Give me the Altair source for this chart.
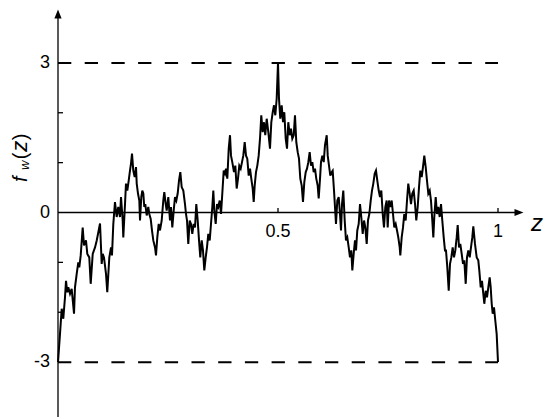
import altair as alt
import pandas as pd

# Curve f_w(z)
z_vals = [0.0000, 0.0045, 0.0084, 0.0120, 0.0159, 0.0182, 0.0211, 0.0234, 0.0273, 0.0311,
          0.0364, 0.0386, 0.0425, 0.0461, 0.0484, 0.0516, 0.0561, 0.0591, 0.0636, 0.0666,
          0.0711, 0.0743, 0.0789, 0.0841, 0.0880, 0.0955, 0.0993, 0.1016, 0.1045, 0.1091,
          0.1120, 0.1166, 0.1205, 0.1227, 0.1257, 0.1295, 0.1334, 0.1370, 0.1409, 0.1432,
          0.1470, 0.1484, 0.1523, 0.1545, 0.1575, 0.1607, 0.1636, 0.1659, 0.1682, 0.1711,
          0.1743, 0.1773, 0.1789, 0.1818, 0.1848, 0.1864, 0.1893, 0.1916, 0.1939, 0.1961,
          0.1984, 0.2016, 0.2052, 0.2075, 0.2107, 0.2136, 0.2166, 0.2205, 0.2227, 0.2257,
          0.2289, 0.2318, 0.2357, 0.2393, 0.2416, 0.2448, 0.2470, 0.2507, 0.2545, 0.2568,
          0.2598, 0.2630, 0.2659, 0.2689, 0.2720, 0.2750, 0.2780, 0.2811, 0.2848, 0.2886,
          0.2909, 0.2932, 0.2961, 0.2993, 0.3023, 0.3052, 0.3084, 0.3114, 0.3143, 0.3175,
          0.3205, 0.3234, 0.3266, 0.3295, 0.3325, 0.3357, 0.3386, 0.3416, 0.3448, 0.3477,
          0.3507, 0.3530, 0.3552, 0.3584, 0.3614, 0.3643, 0.3675, 0.3705, 0.3734, 0.3766,
          0.3795, 0.3818, 0.3848, 0.3880, 0.3909, 0.3932, 0.3961, 0.4000, 0.4030, 0.4061,
          0.4091, 0.4120, 0.4152, 0.4182, 0.4211, 0.4243, 0.4273, 0.4302, 0.4334, 0.4364,
          0.4393, 0.4425, 0.4448, 0.4470, 0.4500, 0.4530, 0.4561, 0.4591, 0.4620, 0.4652,
          0.4682, 0.4711, 0.4743, 0.4780, 0.4818, 0.4848, 0.4880, 0.4909, 0.4939, 0.4970,
          0.5000, 0.5023, 0.5052, 0.5084, 0.5114, 0.5143, 0.5175, 0.5205, 0.5234, 0.5266,
          0.5295, 0.5325, 0.5357, 0.5386, 0.5416, 0.5448, 0.5477, 0.5507, 0.5539, 0.5568,
          0.5598, 0.5630, 0.5659, 0.5689, 0.5720, 0.5750, 0.5780, 0.5811, 0.5841, 0.5870,
          0.5902, 0.5925, 0.5955, 0.5977, 0.6007, 0.6039, 0.6068, 0.6107, 0.6130, 0.6159,
          0.6189, 0.6220, 0.6243, 0.6273, 0.6295, 0.6318, 0.6348, 0.6380, 0.6409, 0.6432,
          0.6455, 0.6484, 0.6516, 0.6545, 0.6575, 0.6607, 0.6636, 0.6666, 0.6689, 0.6720,
          0.6750, 0.6773, 0.6802, 0.6834, 0.6864, 0.6893, 0.6925, 0.6955, 0.6984, 0.7016,
          0.7045, 0.7075, 0.7107, 0.7136, 0.7166, 0.7198, 0.7227, 0.7257, 0.7289, 0.7318,
          0.7348, 0.7380, 0.7409, 0.7439, 0.7470, 0.7493, 0.7523, 0.7552, 0.7584, 0.7614,
          0.7643, 0.7675, 0.7705, 0.7734, 0.7766, 0.7780, 0.7811, 0.7841, 0.7870, 0.7902,
          0.7932, 0.7961, 0.7993, 0.8023, 0.8052, 0.8084, 0.8114, 0.8143, 0.8175, 0.8205,
          0.8234, 0.8266, 0.8295, 0.8325, 0.8357, 0.8386, 0.8416, 0.8448, 0.8477, 0.8507,
          0.8530, 0.8552, 0.8584, 0.8614, 0.8643, 0.8675, 0.8705, 0.8734, 0.8766, 0.8795,
          0.8818, 0.8848, 0.8880, 0.8909, 0.8939, 0.8970, 0.9000, 0.9030, 0.9061, 0.9084,
          0.9114, 0.9143, 0.9175, 0.9205, 0.9234, 0.9266, 0.9295, 0.9325, 0.9357, 0.9386,
          0.9416, 0.9439, 0.9477, 0.9516, 0.9552, 0.9575, 0.9607, 0.9636, 0.9666, 0.9689,
          0.9720, 0.9750, 0.9780, 0.9811, 0.9834, 0.9857, 0.9880, 0.9909, 0.9939, 0.9970,
          1.0000]
f_vals = [-3.00, -2.44, -1.93, -2.13, -1.70, -1.37, -1.60, -1.50, -1.63, -1.53,
          -2.03, -1.50, -1.23, -1.00, -1.10, -0.86, -0.30, -0.66, -0.56, -0.83,
          -0.90, -1.43, -0.83, -0.70, -0.56, -0.22, -1.03, -0.83, -0.90, -1.23,
          -1.60, -0.90, -0.70, -0.86, -0.23, 0.21, -0.09, 0.11, -0.09, 0.31,
          -0.16, -0.50, 0.17, 0.58, 0.44, 0.64, 0.84, 0.98, 1.18, 0.84,
          0.71, 0.91, 0.58, 0.38, 0.24, -0.16, 0.31, 0.44, 0.38, 0.11,
          0.17, -0.06, 0.11, -0.03, -0.13, -0.36, -0.56, -0.70, -0.86, -0.50,
          -0.23, -0.36, -0.16, 0.24, 0.41, 0.17, 0.04, 0.31, -0.16, 0.11,
          -0.30, 0.04, 0.31, 0.24, 0.38, 0.64, 0.81, 0.51, 0.44, 0.17,
          -0.03, -0.16, -0.63, -0.16, -0.23, -0.43, -0.23, -0.30, 0.17, -0.16,
          -0.56, -0.90, -0.56, -0.76, -1.16, -0.90, -0.70, -0.43, -0.56, -0.23,
          0.11, 0.44, 0.04, -0.23, 0.17, 0.11, 0.24, -0.03, 0.38, 0.84,
          0.78, 0.88, 0.68, 1.28, 1.55, 1.14, 1.01, 0.81, 0.94, 0.48,
          0.68, 0.94, 0.88, 1.01, 1.14, 1.41, 1.14, 1.08, 0.74, 0.88,
          0.68, 0.48, 0.21, 0.54, 0.81, 0.94, 1.14, 1.48, 1.95, 1.61,
          1.81, 1.55, 1.88, 1.61, 1.28, 1.81, 2.01, 2.15, 1.95, 2.28,
          3.00, 2.28, 1.88, 2.15, 1.81, 2.01, 1.48, 1.28, 1.81, 1.55,
          1.68, 1.48, 1.55, 1.95, 1.41, 1.21, 1.08, 0.68, 0.54, 0.21,
          0.61, 0.81, 0.88, 1.01, 1.21, 0.94, 1.01, 0.81, 0.88, 0.68,
          0.54, 0.28, 0.68, 1.01, 1.14, 1.01, 1.35, 1.55, 1.14, 0.94,
          0.74, 0.81, 0.84, 0.44, 0.11, -0.23, 0.24, 0.31, -0.03, -0.36,
          0.17, 0.44, -0.16, -0.56, -0.50, -0.70, -0.90, -0.76, -1.16, -0.83,
          -0.56, -0.76, -0.36, -0.23, 0.17, -0.09, -0.43, -0.16, -0.30, -0.63,
          -0.16, -0.03, 0.24, 0.44, 0.58, 0.78, 0.84, 0.64, 0.44, 0.31,
          0.44, -0.03, -0.30, 0.11, 0.24, -0.30, 0.24, 0.11, 0.24, -0.03,
          -0.30, -0.23, -0.36, -0.50, -0.70, -0.86, -0.50, -0.30, -0.03, -0.16,
          0.24, 0.58, 0.38, 0.17, 0.38, 0.44, 0.17, -0.16, 0.11, 0.51,
          0.84, 0.71, 0.91, 1.14, 0.91, 0.64, 0.38, 0.44, 0.24, -0.16,
          -0.50, -0.09, 0.31, -0.03, 0.11, -0.09, 0.17, -0.16, -0.50, -0.76,
          -0.76, -1.10, -1.57, -1.03, -0.90, -0.70, -0.90, -0.76, -0.50, -0.25,
          -0.70, -0.63, -0.83, -1.03, -0.96, -1.43, -0.90, -0.76, -0.90, -0.70,
          -0.50, -0.28, -0.63, -0.90, -0.96, -1.16, -1.50, -1.37, -1.63, -1.83,
          -1.57, -1.70, -1.50, -1.30, -1.50, -1.83, -2.03, -1.90, -2.17, -2.44,
          -3.00]

bound_levels = [3, -3]
y_tick_labels = ["3", "0", "-3"]
y_tick_label_vals = [3, 0, -3]
y_minor_ticks = [2, 1, -1, -2]
x_tick_labels = ["0.5", "1"]
x_tick_vals = [0.5, 1.0]

FONT = "Liberation Sans"
XS = alt.Scale(domain=[0, 1], nice=False, zero=False)
YS = alt.Scale(domain=[-4, 4], nice=False, zero=False)


def X(f):
    return alt.X(f, type="quantitative", scale=XS, axis=None)


def Y(f):
    return alt.Y(f, type="quantitative", scale=YS, axis=None)


curve_df = pd.DataFrame({"z": z_vals, "f": f_vals})
curve = alt.Chart(curve_df).mark_line(color="black", strokeWidth=2).encode(
    x=X("z"), y=Y("f"), order="z:Q")

bounds = alt.Chart(pd.DataFrame({"y": bound_levels, "x0": [0, 0], "x1": [1, 1]})).mark_rule(
    color="black", strokeWidth=2, strokeDash=[13.3, 13.4]).encode(
    x=X("x0"), x2="x1", y=Y("y"))

xaxis = alt.Chart(pd.DataFrame({"y": [0], "x0": [0], "x1": [1.045]})).mark_rule(
    color="black", strokeWidth=1.3).encode(x=X("x0"), x2="x1", y=Y("y"))
yaxis = alt.Chart(pd.DataFrame({"x": [0], "y0": [-4.1], "y1": [3.9]})).mark_rule(
    color="black", strokeWidth=1.3).encode(x=X("x"), y=Y("y0"), y2="y1")

arrow_r = alt.Chart(pd.DataFrame({"x": [1.0477], "y": [0]})).mark_point(
    shape="M1,0L-1,0.8L-1,-0.8Z", filled=True, color="black", opacity=1, size=81,
    strokeWidth=0).encode(x=X("x"), y=Y("y"))
arrow_u = alt.Chart(pd.DataFrame({"x": [0], "y": [3.98]})).mark_point(
    shape="M0,-1L0.8,1L-0.8,1Z", filled=True, color="black", opacity=1, size=81,
    strokeWidth=0).encode(x=X("x"), y=Y("y"))

yminor = alt.Chart(pd.DataFrame({"y": y_minor_ticks, "x0": [0] * 4, "x1": [0.0114] * 4})).mark_rule(
    color="black", strokeWidth=1.3).encode(x=X("x0"), x2="x1", y=Y("y"))
xticks = alt.Chart(pd.DataFrame({"x": x_tick_vals, "y0": [0, 0], "y1": [0.09, 0.09]})).mark_rule(
    color="black", strokeWidth=1.3).encode(x=X("x"), y=Y("y0"), y2="y1")

ylabels = alt.Chart(pd.DataFrame({"t": y_tick_labels, "y": y_tick_label_vals, "x": [-0.018] * 3})).mark_text(
    align="right", baseline="middle", font=FONT, fontSize=18, color="black").encode(
    x=X("x"), y=Y("y"), text="t:N")
xlabels = alt.Chart(pd.DataFrame({"t": x_tick_labels, "x": x_tick_vals, "y": [-0.49, -0.49]})).mark_text(
    align="center", baseline="alphabetic", font=FONT, fontSize=18, color="black").encode(
    x=X("x"), y=Y("y"), text="t:N")

zlabel = alt.Chart(pd.DataFrame({"t": ["z"], "x": [1.075], "y": [-0.38]})).mark_text(
    align="left", baseline="alphabetic", font=FONT, fontSize=24, fontStyle="italic", color="black").encode(
    x=X("x"), y=Y("y"), text="t:N")

# y title f_w(z), rotated; italic parts and upright parts as separate layers
title_it = pd.DataFrame({
    "t": ["f", "w", "z"],
    "x": [-0.0705, -0.065, -0.0705],
    "y": [0.61, 0.85, 1.22],
    "size": [20, 13, 22],
})
title_up = pd.DataFrame({
    "t": ["(", ")"],
    "x": [-0.0705, -0.0705],
    "y": [1.07, 1.45],
    "size": [20, 20],
})
ytitle_it = alt.Chart(title_it).mark_text(
    align="left", baseline="alphabetic", font=FONT, angle=270, fontStyle="italic", color="black").encode(
    x=X("x"), y=Y("y"), text="t:N",
    size=alt.Size("size:Q", scale=None, legend=None))
ytitle_up = alt.Chart(title_up).mark_text(
    align="left", baseline="alphabetic", font=FONT, angle=270, color="black").encode(
    x=X("x"), y=Y("y"), text="t:N",
    size=alt.Size("size:Q", scale=None, legend=None))

chart = alt.layer(
    bounds, curve, xaxis, yaxis, arrow_r, arrow_u, yminor, xticks,
    ylabels, xlabels, zlabel, ytitle_it, ytitle_up
).properties(
    width=440, height=399,
    autosize=alt.AutoSizeParams(type="none"),
    padding={"left": 50, "top": 5, "right": 48, "bottom": 8},
    background="white",
).configure_view(stroke=None)

chart.save("out.html", embed_options={"renderer": "svg", "actions": False})
